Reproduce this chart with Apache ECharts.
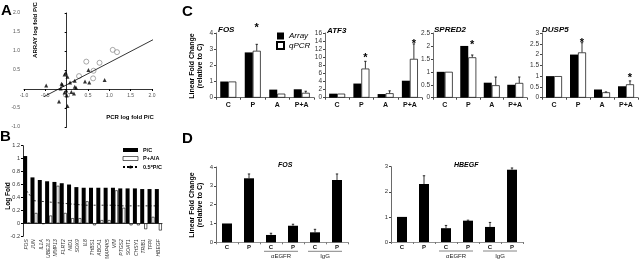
<!DOCTYPE html>
<html><head><meta charset="utf-8">
<script src="https://cdn.jsdelivr.net/npm/echarts@6/dist/echarts.min.js"></script>
<style>html,body{margin:0;padding:0;background:#fff}#c{width:640px;height:262px}</style>
</head><body><div id="c"></div>
<script>
const FONT = '"Liberation Sans", Arial, sans-serif';

// ---------- Panel A : array vs PCR log fold ----------
const aTriangles = [[0.51,0.50],[-0.02,0.43],[-0.05,0.38],[0.02,0.32],[0.89,0.24],[0.43,0.20],[0.53,0.17],
  [0.19,0.22],[0.08,0.17],[-0.12,0.14],[-0.10,0.11],[-0.48,0.09],[0.19,0.06],[0.22,0.03],[-0.14,0.01],
  [-0.01,-0.04],[0.11,-0.08],[0.17,-0.12],[0.00,-0.17],[-0.18,-0.33],[0.02,-0.45],[-0.05,-0.09]];
const aCircles = [[2.03,1.30],[1.08,1.03],[1.18,0.97],[0.46,0.72],[0.77,0.69],[0.63,0.48],[0.29,0.34],[0.62,0.28]];
const aFitLine = [[-0.53,-0.20],[2.03,1.30]];

// ---------- Panel B : log fold per gene ----------
const bGenes = ['FOS','JUN','IL1A','UBE2L3','MMP13','FLRT2','NID1','SOX9','IL8','THBS1','ABCA1','MAP4K5',
  'VIM','PTGS2','SOAT1','CHSY1','TRIB1','TFPI','HBEGF'];
const bPC   = [1.04,0.71,0.67,0.65,0.64,0.62,0.60,0.56,0.55,0.55,0.55,0.55,0.55,0.54,0.54,0.54,0.53,0.53,0.53];
const bPAA  = [0.01,0.16,-0.01,0.12,0.58,0.16,0.08,0.08,0.34,-0.03,0.05,0.05,0.51,0.24,-0.03,-0.03,-0.09,0.10,-0.11];
const bHalf = [0.50,0.35,0.34,0.33,0.32,0.31,0.30,0.29,0.28,0.28,0.28,0.28,0.28,0.27,0.27,0.27,0.27,0.27,0.27];

// ---------- Panel C : array vs qPCR ----------
const cCats = ['C','P','A','P+A'];
const fosArray = [1, 2.8, 0.5, 0.52],  fosQ = [1, 2.9, 0.25, 0.3],   fosErr = [null, 3.3, null, 0.4],   fosStar = [null, 4.5, null, null];
const atf3Array = [1, 3.5, 0.9, 4.2],  atf3Q = [1, 7.2, 1.1, 9.6],  atf3Err = [null, 9.0, 1.7, 13.3], atf3Star = [null, 10.6, null, 14.0];
const spred2Array = [1, 2.0, 0.58, 0.5], spred2Q = [1, 1.56, 0.48, 0.57], spred2Err = [null, 1.65, 0.8, 0.8], spred2Star = [null, 2.16, null, null];
const dusp5Array = [1, 2.0, 0.38, 0.53], dusp5Q = [1, 2.1, 0.25, 0.62], dusp5Err = [null, 2.55, 0.27, 0.78], dusp5Star = [null, 2.67, null, 1.05];

// ---------- Panel D : antibody blocking ----------
const dCats = ['C','P','C','P','C','P'];
const dFos = [1.0, 3.4, 0.39, 0.88, 0.53, 3.31],   dFosErr = [null, 3.63, 0.48, 0.96, 0.69, 3.63];
const dHbegf = [1.0, 2.31, 0.55, 0.85, 0.6, 2.88], dHbegfErr = [null, 2.64, 0.66, 0.87, 0.78, 2.95];
const dGroupNames = ['\u03b1EGFR', 'IgG'], dGroupFrom = [2, 4], dGroupTo = [3, 5];

const AX = '#444';

function errBars(idx, base, tops, dx) {
  const data = [];
  tops.forEach((t, i) => { if (t != null) data.push([i, base[i], t]); });
  return { type: 'custom', xAxisIndex: idx, yAxisIndex: idx, data, z: 3, silent: true,
    encode: { x: 0, y: [1, 2] },
    renderItem: (p, api) => {
      const lo = api.coord([api.value(0), api.value(1)]);
      const hi = api.coord([api.value(0), api.value(2)]);
      const x = lo[0] + dx;
      return { type: 'group', children: [
        { type: 'line', shape: { x1: x, y1: lo[1], x2: x, y2: hi[1] }, style: { stroke: '#000', lineWidth: 0.8 } },
        { type: 'line', shape: { x1: x - 1.2, y1: hi[1], x2: x + 1.2, y2: hi[1] }, style: { stroke: '#000', lineWidth: 0.8 } }
      ] };
    } };
}
function starMarks(idx, pos, dx) {
  const data = [];
  pos.forEach((v, i) => { if (v != null) data.push([i, v]); });
  return { type: 'custom', xAxisIndex: idx, yAxisIndex: idx, data, z: 4, silent: true,
    renderItem: (p, api) => {
      const c = api.coord([api.value(0), api.value(1)]);
      return { type: 'text', x: c[0] + dx, y: c[1] + 3,
        style: { text: '*', fontSize: 11, fontWeight: 'bold', fontFamily: FONT, fill: '#000', align: 'center', verticalAlign: 'middle' } };
    } };
}
function groupMarks(idx) {
  const data = dGroupFrom.map((f, i) => [f, dGroupTo[i], i]);
  return { type: 'custom', xAxisIndex: idx, yAxisIndex: idx, data, silent: true,
    encode: { x: [0, 1], y: 2 },
    renderItem: (p, api) => {
      const a = api.coord([api.value(0), 0]);
      const b = api.coord([api.value(1), 0]);
      const x1 = a[0] - 7, x2 = b[0] + 5, y = a[1] + 9;
      return { type: 'group', children: [
        { type: 'line', shape: { x1, y1: y, x2, y2: y }, style: { stroke: '#666', lineWidth: 0.8 } },
        { type: 'text', x: (x1 + x2) / 2, y: y + 5.5, style: { text: dGroupNames[api.value(2)], fontSize: 6, fontFamily: FONT, fill: '#222', align: 'center', verticalAlign: 'middle' } }
      ] };
    } };
}

const grids = [
  { left: 24, top: 13, width: 128, height: 114 },
  { left: 23, top: 145.7, width: 139, height: 100.6 },
  { left: 216, top: 33, width: 98, height: 64.7 },
  { left: 325, top: 33, width: 97, height: 64.7 },
  { left: 433, top: 33, width: 94, height: 64.7 },
  { left: 542, top: 33, width: 96, height: 64.7 },
  { left: 216, top: 167, width: 132, height: 75.3 },
  { left: 391, top: 166.7, width: 132, height: 75.3 }
];

const xAxes = [], yAxes = [], series = [];

// A  (x axis drawn through y = 0: grid height 114 spans 3 units -> offset 38 px up)
xAxes.push({ gridIndex: 0, type: 'value', min: -1, max: 2, interval: 0.5, splitLine: { show: false }, offset: -38,
  axisLine: { onZero: false, lineStyle: { color: '#000', width: 0.8 } }, axisTick: { length: 2, lineStyle: { color: '#000' } },
  axisLabel: { fontSize: 5, color: '#555', margin: 4, formatter: v => v.toFixed(1) } });
yAxes.push({ gridIndex: 0, type: 'value', min: -1, max: 2, interval: 0.5, splitLine: { show: false },
  axisLine: { show: true, onZero: true, lineStyle: { color: '#000', width: 0.8 } }, axisTick: { show: true, length: 2, lineStyle: { color: '#000' } },
  axisLabel: { fontSize: 5, color: '#555', margin: 4, formatter: v => (Math.abs(v) < 1e-9 ? '' : v.toFixed(1)) } });
series.push({ type: 'line', xAxisIndex: 0, yAxisIndex: 0, data: aFitLine, symbol: 'none', silent: true, lineStyle: { color: '#000', width: 0.8 } });
series.push({ type: 'scatter', xAxisIndex: 0, yAxisIndex: 0, data: aTriangles, symbol: 'triangle', symbolSize: 4, itemStyle: { color: '#000' } });
series.push({ type: 'scatter', xAxisIndex: 0, yAxisIndex: 0, data: aCircles, symbol: 'circle', symbolSize: 5, itemStyle: { color: '#fff', borderColor: '#666', borderWidth: 0.7 } });

// B
xAxes.push({ gridIndex: 1, type: 'category', data: bGenes,
  axisLine: { onZero: true, lineStyle: { color: '#000', width: 0.8 } }, axisTick: { show: false },
  axisLabel: { interval: 0, rotate: 90, fontSize: 5, fontStyle: 'italic', color: '#333', margin: 3 } });
yAxes.push({ gridIndex: 1, type: 'value', min: -0.2, max: 1.2, interval: 0.2, splitLine: { show: false },
  axisLine: { show: true, lineStyle: { color: '#000', width: 0.8 } }, axisTick: { show: true, length: 2, lineStyle: { color: '#000' } },
  axisLabel: { fontSize: 5.5, color: '#333', margin: 3, formatter: v => String(Math.round(v * 10) / 10) } });
series.push({ type: 'bar', name: 'P/C', xAxisIndex: 1, yAxisIndex: 1, data: bPC, barWidth: 4, barGap: '0%', itemStyle: { color: '#000' } });
series.push({ type: 'bar', name: 'P+A/A', xAxisIndex: 1, yAxisIndex: 1, data: bPAA, barWidth: 3, barGap: '0%', itemStyle: { color: '#fff', borderColor: '#000', borderWidth: 0.6 } });
series.push({ type: 'line', name: '0.5*P/C', xAxisIndex: 1, yAxisIndex: 1, data: bHalf, symbol: 'none', z: 5,
  itemStyle: { color: '#000' }, lineStyle: { color: '#000', width: 0.8, type: [2, 2] } });

// C
const cDefs = [
  { arr: fosArray, q: fosQ, err: fosErr, star: fosStar, max: 4, interval: 1 },
  { arr: atf3Array, q: atf3Q, err: atf3Err, star: atf3Star, max: 16, interval: 2 },
  { arr: spred2Array, q: spred2Q, err: spred2Err, star: spred2Star, max: 2.5, interval: 0.5 },
  { arr: dusp5Array, q: dusp5Q, err: dusp5Err, star: dusp5Star, max: 3, interval: 0.5 }
];
cDefs.forEach((d, k) => {
  const gi = 2 + k;
  xAxes.push({ gridIndex: gi, type: 'category', data: cCats,
    axisLine: { lineStyle: { color: AX, width: 0.8 } }, axisTick: { show: true, length: 2, lineStyle: { color: AX } },
    axisLabel: { interval: 0, fontSize: 7, fontWeight: 'bold', color: '#111', margin: 4 } });
  yAxes.push({ gridIndex: gi, type: 'value', min: 0, max: d.max, interval: d.interval, splitLine: { show: false },
    axisLine: { show: true, lineStyle: { color: AX, width: 0.8 } }, axisTick: { show: true, length: 2, lineStyle: { color: AX } },
    axisLabel: { fontSize: 6.5, color: '#333', margin: 3 } });
  series.push({ type: 'bar', name: 'Array', xAxisIndex: gi, yAxisIndex: gi, data: d.arr, barWidth: 8, barGap: '0%', itemStyle: { color: '#000' } });
  series.push({ type: 'bar', name: 'qPCR', xAxisIndex: gi, yAxisIndex: gi, data: d.q, barWidth: 8, barGap: '0%', itemStyle: { color: '#fff', borderColor: '#000', borderWidth: 0.7 } });
  series.push(errBars(gi, d.q, d.err, 4));
  series.push(starMarks(gi, d.star, 4));
});

// D
const dDefs = [
  { vals: dFos, err: dFosErr, max: 4 },
  { vals: dHbegf, err: dHbegfErr, max: 3 }
];
dDefs.forEach((d, k) => {
  const gi = 6 + k;
  xAxes.push({ gridIndex: gi, type: 'category', data: dCats,
    axisLine: { lineStyle: { color: '#777', width: 0.8 } }, axisTick: { show: true, length: 2, lineStyle: { color: '#777' } },
    axisLabel: { interval: 0, fontSize: 6, fontWeight: 'bold', color: '#111', margin: 2 } });
  yAxes.push({ gridIndex: gi, type: 'value', min: 0, max: d.max, interval: 1, splitLine: { show: false },
    axisLine: { show: true, lineStyle: { color: AX, width: 0.8 } }, axisTick: { show: true, length: 2, lineStyle: { color: AX } },
    axisLabel: { fontSize: 6, color: '#333', margin: 3 } });
  series.push({ type: 'bar', name: 'D' + k, xAxisIndex: gi, yAxisIndex: gi, data: d.vals, barWidth: 10, itemStyle: { color: '#000' } });
  series.push(errBars(gi, d.vals, d.err, 0));
  series.push(groupMarks(gi));
});

function rotText(x, y, text, size) {
  return { type: 'text', x, y, rotation: Math.PI / 2, silent: true,
    style: { text, fontSize: size, fontWeight: 'bold', fontFamily: FONT, fill: '#000', align: 'center', verticalAlign: 'middle' } };
}
function plainText(x, y, text, size, align) {
  return { type: 'text', x, y, silent: true,
    style: { text, fontSize: size, fontWeight: 'bold', fontFamily: FONT, fill: '#000', align: align || 'left', verticalAlign: 'middle' } };
}

const option = {
  animation: false,
  backgroundColor: '#fff',
  textStyle: { fontFamily: FONT },
  grid: grids,
  xAxis: xAxes,
  yAxis: yAxes,
  series,
  title: [
    { text: 'FOS', left: 218, top: 26, padding: 0, textStyle: { fontSize: 8, fontStyle: 'italic', fontWeight: 'bold', color: '#000' } },
    { text: 'ATF3', left: 327, top: 27, padding: 0, textStyle: { fontSize: 8, fontStyle: 'italic', fontWeight: 'bold', color: '#000' } },
    { text: 'SPRED2', left: 434, top: 26, padding: 0, textStyle: { fontSize: 8, fontStyle: 'italic', fontWeight: 'bold', color: '#000' } },
    { text: 'DUSP5', left: 542, top: 26, padding: 0, textStyle: { fontSize: 8, fontStyle: 'italic', fontWeight: 'bold', color: '#000' } },
    { text: 'FOS', left: 278, top: 162, padding: 0, textStyle: { fontSize: 7, fontStyle: 'italic', fontWeight: 'bold', color: '#000' } },
    { text: 'HBEGF', left: 454, top: 162, padding: 0, textStyle: { fontSize: 7, fontStyle: 'italic', fontWeight: 'bold', color: '#000' } }
  ],
  legend: [
    { data: [{ name: 'P/C', icon: 'rect' }, { name: 'P+A/A', icon: 'rect', itemStyle: { borderWidth: 0.6 } }, '0.5*P/C'], orient: 'vertical', left: 122, top: 147, padding: 0,
      itemWidth: 15, itemHeight: 4, itemGap: 2.5, selectedMode: false, textStyle: { fontSize: 5.5, fontWeight: 'bold', color: '#000' } },
    { data: ['Array', 'qPCR'], orient: 'vertical', left: 276, top: 32, padding: 0, itemWidth: 7, itemHeight: 7, itemGap: 1,
      selectedMode: false, icon: 'rect', textStyle: { fontSize: 8, fontStyle: 'italic', color: '#000' } }
  ],
  graphic: [
    plainText(1, 11, 'A', 15), plainText(0, 137, 'B', 15), plainText(182, 12, 'C', 15), plainText(182, 139, 'D', 15),
    rotText(35, 30, 'ARRAY log fold P/C', 6),
    plainText(130, 117, 'PCR log fold P/C', 6, 'center'),
    rotText(8, 196, 'Log Fold', 6.5),
    rotText(192, 66, 'Linear Fold Change', 7), rotText(200, 66, '(relative to C)', 7),
    rotText(192, 205, 'Linear Fold Change', 7), rotText(200, 205, '(relative to C)', 7)
  ]
};
echarts.init(document.getElementById('c'), null, { renderer: 'canvas' }).setOption(option);
</script></body></html>
